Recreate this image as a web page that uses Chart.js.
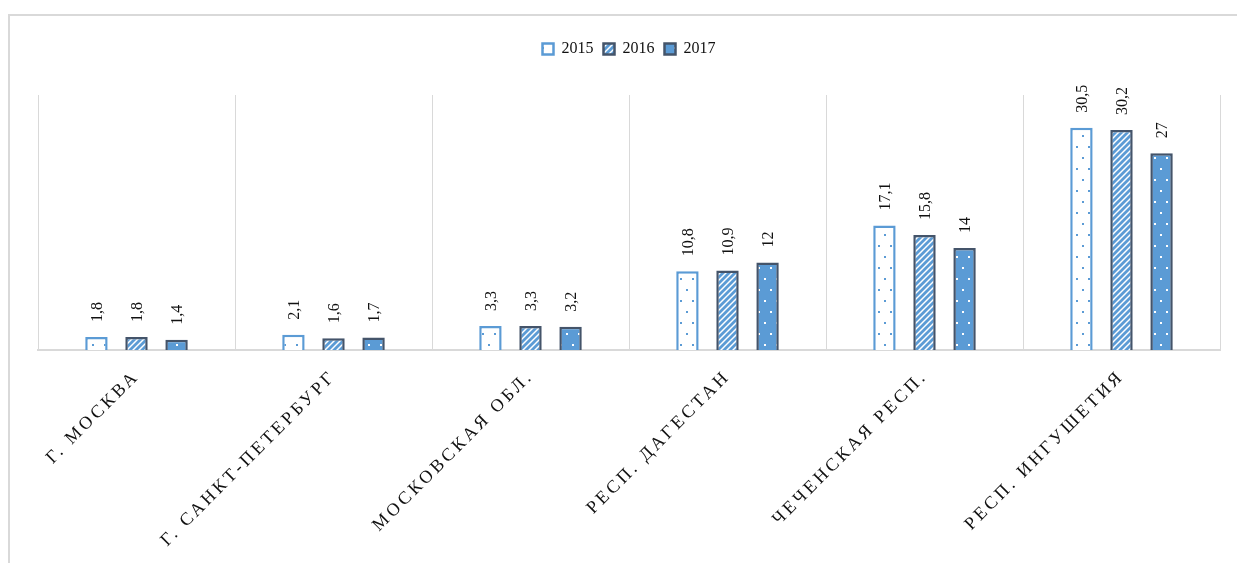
<!DOCTYPE html>
<html>
<head>
<meta charset="utf-8">
<script src="https://cdn.jsdelivr.net/npm/chart.js@4.4.1/dist/chart.umd.min.js"></script>
<style>
  html, body { margin: 0; padding: 0; background: #fff; overflow: hidden; }
  #frame { position: absolute; left: 8px; top: 14px; width: 1300px; height: 600px;
           border-left: 2px solid #d9d9d9; border-top: 2px solid #d9d9d9; }
  #myChart { position: absolute; left: 0; top: 0; }
</style>
</head>
<body>
<div id="frame"></div>
<canvas id="myChart" width="1237" height="563"></canvas>
<script>
var regions = ["Г. МОСКВА", "Г. САНКТ-ПЕТЕРБУРГ", "МОСКОВСКАЯ ОБЛ.", "РЕСП. ДАГЕСТАН", "ЧЕЧЕНСКАЯ РЕСП.", "РЕСП. ИНГУШЕТИЯ"];
var years = ["2015", "2016", "2017"];
var values2015 = [1.8, 2.1, 3.3, 10.8, 17.1, 30.5];
var values2016 = [1.8, 1.6, 3.3, 10.9, 15.8, 30.2];
var values2017 = [1.4, 1.7, 3.2, 12, 14, 27];

var blue = "#5b9bd5";
var dark = "#44546a";

// small canvas tiles for the bar fills
function dotPattern(bg, dot) {
  var c = document.createElement("canvas");
  c.width = 12; c.height = 22;
  var x = c.getContext("2d");
  x.fillStyle = bg; x.fillRect(0, 0, 12, 22);
  x.fillStyle = dot;
  x.fillRect(2, 3, 2, 2);
  x.fillRect(8, 14, 2, 2);
  return x.createPattern(c, "repeat");
}
function stripePattern() {
  var c = document.createElement("canvas");
  c.width = 6; c.height = 6;
  var x = c.getContext("2d");
  x.fillStyle = "#fff"; x.fillRect(0, 0, 6, 6);
  x.strokeStyle = blue; x.lineWidth = 2.8;
  x.beginPath();
  x.moveTo(-3, 9); x.lineTo(9, -3);
  x.moveTo(-3, 3); x.lineTo(3, -3);
  x.moveTo(3, 9); x.lineTo(9, 3);
  x.stroke();
  return x.createPattern(c, "repeat");
}

var valueLabels = {
  id: "valueLabels",
  beforeInit: function(chart) {
    // extra room under the legend, as in the original
    var lg = chart.legend;
    if (lg) {
      var fit = lg.fit;
      lg.fit = function() {
        fit.call(this);
        this.height += 28;
      };
    }
  },
  afterDatasetsDraw: function(chart) {
    var ctx = chart.ctx;
    ctx.save();
    ctx.font = "16px 'Liberation Serif', 'Times New Roman', serif";
    ctx.fillStyle = "#111";
    ctx.textAlign = "left";
    ctx.textBaseline = "middle";
    chart.data.datasets.forEach(function(ds, i) {
      chart.getDatasetMeta(i).data.forEach(function(bar, j) {
        ctx.save();
        ctx.translate(bar.x, bar.y - 15);
        ctx.rotate(-Math.PI / 2);
        ctx.fillText(String(ds.data[j]).replace(".", ","), 0, 1);
        ctx.restore();
      });
    });
    ctx.restore();
    // x tick labels are drawn after this (ticks.z = 1), spaced out
    ctx.letterSpacing = "3.2px";
  },
  afterDraw: function(chart) {
    chart.ctx.letterSpacing = "0px";
  }
};

var ctx = document.getElementById("myChart").getContext("2d");
var chart = new Chart(ctx, {
  type: "bar",
  data: {
    labels: regions,
    datasets: [{
      label: years[0],
      data: values2015,
      backgroundColor: dotPattern("#fff", blue),
      borderColor: blue,
      borderWidth: 2.5
    }, {
      label: years[1],
      data: values2016,
      backgroundColor: stripePattern(),
      borderColor: dark,
      borderWidth: 2.5
    }, {
      label: years[2],
      data: values2017,
      backgroundColor: dotPattern(blue, "#fff"),
      borderColor: dark,
      borderWidth: 2.5
    }]
  },
  options: {
    responsive: false,
    animation: false,
    categoryPercentage: 0.61,
    barPercentage: 0.56,
    layout: { padding: { left: 38, right: 17, top: 31, bottom: 0 } },
    plugins: {
      legend: {
        display: true,
        position: "top",
        labels: {
          boxWidth: 11,
          boxHeight: 11,
          padding: 10,
          color: "#111",
          font: { family: "'Liberation Serif', 'Times New Roman', serif", size: 16 }
        }
      },
      tooltip: { enabled: false }
    },
    scales: {
      x: {
        grid: { display: true, offset: true, color: "#d9d9d9", lineWidth: 1, drawTicks: false },
        border: { display: true, color: "#d9d9d9", width: 2 },
        ticks: {
          z: 1,
          minRotation: 45,
          maxRotation: 45,
          padding: 16,
          color: "#111",
          font: { family: "'Liberation Serif', 'Times New Roman', serif", size: 18 }
        },
        afterFit: function(scale) { scale.height = 213; }
      },
      y: {
        display: false,
        min: 0,
        max: 35
      }
    }
  },
  plugins: [valueLabels]
});
</script>
</body>
</html>
